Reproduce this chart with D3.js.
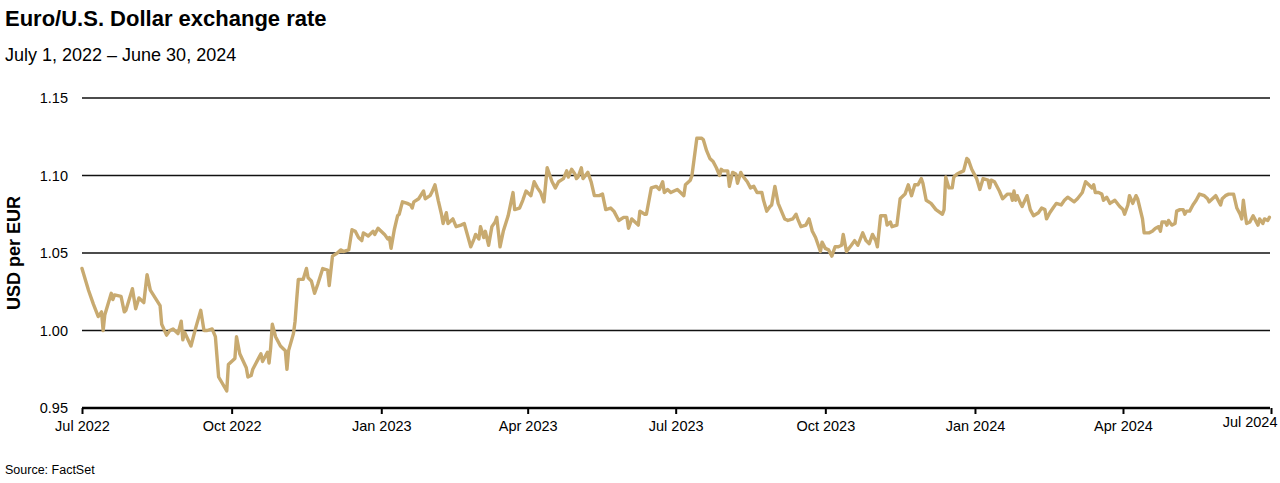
<!DOCTYPE html>
<meta charset="utf-8">
<style>
  body { margin: 0; background: #fff; }
  svg { display: block; font-family: "Liberation Sans", Arial, sans-serif; }
</style>
<svg width="1280" height="483"></svg>
<script src="https://d3js.org/d3.v7.min.js"></script>
<script>
// EUR/USD (approximate points along the line)
var dates = [
  "2022-07-01","2022-07-05","2022-07-08","2022-07-11","2022-07-13","2022-07-14","2022-07-15","2022-07-19","2022-07-20","2022-07-21",
  "2022-07-25","2022-07-27","2022-07-28","2022-08-01","2022-08-03","2022-08-05","2022-08-08","2022-08-10","2022-08-12","2022-08-15",
  "2022-08-18","2022-08-19","2022-08-22","2022-08-24","2022-08-26","2022-08-29","2022-08-31","2022-09-01","2022-09-02","2022-09-06",
  "2022-09-09","2022-09-12","2022-09-14","2022-09-16","2022-09-19","2022-09-21","2022-09-23","2022-09-28","2022-09-29","2022-09-30",
  "2022-10-03","2022-10-04","2022-10-06","2022-10-10","2022-10-11","2022-10-13","2022-10-14","2022-10-18","2022-10-19","2022-10-20",
  "2022-10-23","2022-10-24","2022-10-25","2022-10-26","2022-10-28","2022-10-31","2022-11-03","2022-11-04","2022-11-05","2022-11-08",
  "2022-11-09","2022-11-10","2022-11-11","2022-11-14","2022-11-16","2022-11-17","2022-11-19","2022-11-21","2022-11-23","2022-11-26",
  "2022-11-29","2022-11-30","2022-12-02","2022-12-05","2022-12-07","2022-12-09","2022-12-12","2022-12-14","2022-12-16","2022-12-18",
  "2022-12-20","2022-12-21","2022-12-24","2022-12-27","2022-12-28","2022-12-30",
  "2023-01-03","2023-01-05","2023-01-06","2023-01-07","2023-01-09","2023-01-11","2023-01-12","2023-01-14","2023-01-17","2023-01-19",
  "2023-01-20","2023-01-21","2023-01-24","2023-01-27","2023-01-28","2023-01-31","2023-02-01","2023-02-03","2023-02-05","2023-02-07",
  "2023-02-08","2023-02-10","2023-02-11","2023-02-14","2023-02-16","2023-02-19","2023-02-21","2023-02-25","2023-02-27","2023-02-28",
  "2023-03-02","2023-03-03","2023-03-05","2023-03-06","2023-03-08","2023-03-10","2023-03-12","2023-03-13","2023-03-15","2023-03-17",
  "2023-03-20","2023-03-23","2023-03-24","2023-03-27","2023-03-29","2023-03-31","2023-04-03","2023-04-05","2023-04-07","2023-04-09",
  "2023-04-11","2023-04-13","2023-04-16","2023-04-18","2023-04-20","2023-04-23","2023-04-25","2023-04-26","2023-04-28","2023-04-30",
  "2023-05-01","2023-05-02","2023-05-04","2023-05-05","2023-05-08","2023-05-10","2023-05-12","2023-05-15","2023-05-17","2023-05-19",
  "2023-05-22","2023-05-24","2023-05-27","2023-05-30","2023-06-01","2023-06-02","2023-06-04","2023-06-06","2023-06-08","2023-06-09",
  "2023-06-12","2023-06-13","2023-06-16","2023-06-19","2023-06-21","2023-06-23","2023-06-24","2023-06-26","2023-06-28","2023-06-30",
  "2023-07-02","2023-07-04","2023-07-06","2023-07-07","2023-07-10","2023-07-11","2023-07-14","2023-07-17","2023-07-18","2023-07-20",
  "2023-07-22","2023-07-24","2023-07-26","2023-07-28","2023-07-29","2023-07-30","2023-08-02","2023-08-03","2023-08-05","2023-08-07",
  "2023-08-08","2023-08-10","2023-08-11","2023-08-14","2023-08-16","2023-08-18","2023-08-20","2023-08-23","2023-08-24","2023-08-26",
  "2023-08-28","2023-08-29","2023-08-31","2023-09-02","2023-09-04","2023-09-06","2023-09-08","2023-09-11","2023-09-13","2023-09-14",
  "2023-09-16","2023-09-19","2023-09-21","2023-09-23","2023-09-25","2023-09-28","2023-09-29","2023-10-01","2023-10-03","2023-10-05",
  "2023-10-07","2023-10-09","2023-10-11","2023-10-12","2023-10-14","2023-10-17","2023-10-19","2023-10-21","2023-10-24","2023-10-26",
  "2023-10-28","2023-10-30","2023-11-01","2023-11-02","2023-11-04","2023-11-06","2023-11-07","2023-11-08","2023-11-10","2023-11-11",
  "2023-11-14","2023-11-16","2023-11-19","2023-11-21","2023-11-23","2023-11-25","2023-11-27","2023-11-29","2023-11-30","2023-12-02",
  "2023-12-05","2023-12-08","2023-12-12","2023-12-13","2023-12-14","2023-12-16","2023-12-18","2023-12-19","2023-12-21","2023-12-23",
  "2023-12-25","2023-12-27","2023-12-28","2023-12-30",
  "2024-01-02","2024-01-04","2024-01-06","2024-01-09","2024-01-10","2024-01-11","2024-01-13","2024-01-16","2024-01-18","2024-01-21",
  "2024-01-23","2024-01-24","2024-01-25","2024-01-26","2024-01-27","2024-01-29","2024-01-30","2024-02-02","2024-02-04","2024-02-06",
  "2024-02-09","2024-02-11","2024-02-13","2024-02-14","2024-02-16","2024-02-18","2024-02-20","2024-02-23","2024-02-25","2024-02-27",
  "2024-03-02","2024-03-04","2024-03-07","2024-03-09","2024-03-11","2024-03-13","2024-03-14","2024-03-15","2024-03-17","2024-03-19",
  "2024-03-20","2024-03-22","2024-03-24","2024-03-27","2024-03-30","2024-04-01","2024-04-02","2024-04-04","2024-04-05","2024-04-07",
  "2024-04-09","2024-04-10","2024-04-13","2024-04-14","2024-04-17","2024-04-19","2024-04-21","2024-04-23","2024-04-24","2024-04-25",
  "2024-04-27","2024-04-28","2024-04-29","2024-05-01","2024-05-03","2024-05-04","2024-05-06","2024-05-08","2024-05-09","2024-05-10",
  "2024-05-12","2024-05-14","2024-05-16","2024-05-18","2024-05-21","2024-05-23","2024-05-24","2024-05-26","2024-05-28","2024-05-30",
  "2024-05-31","2024-06-01","2024-06-03","2024-06-05","2024-06-07","2024-06-08","2024-06-10","2024-06-12","2024-06-13","2024-06-14",
  "2024-06-15","2024-06-16","2024-06-18","2024-06-20","2024-06-21","2024-06-23","2024-06-24","2024-06-26","2024-06-27","2024-06-29",
  "2024-06-30"
];
var rates = [
  1.040,1.026,1.017,1.009,1.012,1.000,1.010,1.024,1.020,1.023,
  1.022,1.012,1.013,1.027,1.014,1.021,1.018,1.036,1.026,1.021,
  1.016,1.004,0.997,1.000,1.001,0.998,1.006,0.994,0.999,0.990,
  1.002,1.013,1.000,1.000,1.001,0.996,0.970,0.961,0.978,0.979,
  0.982,0.996,0.985,0.976,0.970,0.971,0.975,0.983,0.985,0.980,
  0.986,0.979,0.989,1.004,0.996,0.990,0.987,0.975,0.987,0.998,
  1.006,1.020,1.033,1.033,1.040,1.034,1.032,1.024,1.030,1.040,
  1.039,1.029,1.048,1.050,1.052,1.051,1.052,1.065,1.064,1.060,
  1.058,1.063,1.061,1.064,1.062,1.066,
  1.062,1.059,1.060,1.053,1.065,1.074,1.075,1.083,1.082,1.081,
  1.079,1.083,1.085,1.090,1.085,1.087,1.089,1.094,1.084,1.075,
  1.069,1.076,1.069,1.072,1.067,1.068,1.069,1.054,1.059,1.062,
  1.059,1.067,1.060,1.064,1.055,1.067,1.070,1.073,1.054,1.064,
  1.074,1.089,1.078,1.079,1.084,1.090,1.087,1.096,1.092,1.089,
  1.083,1.105,1.096,1.092,1.096,1.098,1.103,1.099,1.104,1.101,
  1.098,1.099,1.105,1.098,1.102,1.096,1.087,1.087,1.088,1.078,
  1.079,1.077,1.071,1.073,1.073,1.066,1.072,1.070,1.068,1.077,
  1.075,1.075,1.092,1.093,1.091,1.096,1.089,1.091,1.089,1.090,
  1.091,1.089,1.087,1.094,1.097,1.100,1.124,1.124,1.123,1.116,
  1.111,1.109,1.105,1.100,1.104,1.103,1.103,1.093,1.102,1.101,
  1.095,1.102,1.100,1.096,1.092,1.093,1.089,1.089,1.084,1.077,
  1.080,1.081,1.093,1.082,1.077,1.072,1.071,1.072,1.075,1.072,
  1.067,1.068,1.072,1.064,1.060,1.051,1.057,1.053,1.052,1.048,
  1.054,1.054,1.055,1.062,1.051,1.055,1.058,1.055,1.063,1.058,
  1.056,1.062,1.058,1.054,1.074,1.074,1.074,1.068,1.070,1.067,
  1.068,1.085,1.088,1.094,1.087,1.094,1.094,1.098,1.095,1.084,
  1.082,1.078,1.075,1.078,1.099,1.092,1.092,1.099,1.101,1.102,
  1.103,1.111,1.110,1.104,
  1.098,1.091,1.098,1.097,1.092,1.097,1.096,1.090,1.085,1.088,
  1.088,1.084,1.090,1.084,1.087,1.082,1.080,1.087,1.078,1.074,
  1.076,1.079,1.078,1.072,1.076,1.079,1.082,1.081,1.084,1.086,
  1.083,1.085,1.089,1.096,1.094,1.092,1.094,1.089,1.089,1.088,
  1.084,1.086,1.082,1.084,1.080,1.078,1.075,1.081,1.087,1.082,
  1.087,1.085,1.072,1.063,1.063,1.064,1.066,1.067,1.064,1.070,
  1.070,1.068,1.071,1.068,1.069,1.077,1.078,1.078,1.075,1.077,
  1.077,1.081,1.084,1.088,1.087,1.085,1.083,1.085,1.087,1.083,
  1.081,1.085,1.087,1.088,1.088,1.088,1.079,1.075,1.072,1.084,
  1.076,1.069,1.070,1.074,1.072,1.068,1.072,1.069,1.072,1.071,
  1.073
];
var yTicks = [0.95, 1.00, 1.05, 1.10, 1.15];
var gridTicks = [1.00, 1.05, 1.10, 1.15];
var xTickDates = ["2022-07-01","2022-10-01","2023-01-01","2023-04-01","2023-07-01","2023-10-01","2024-01-01","2024-04-01","2024-07-01"];

function drawChart() {
  var parse = d3.timeParse("%Y-%m-%d");
  var data = dates.map(function(d, i) { return { date: parse(d), value: rates[i] }; });

  var svg = d3.select("svg");
  var plotLeft = 82, plotRight = 1271, plotTop = 98, plotBottom = 408;

  var x = d3.scaleTime().domain([parse("2022-07-01"), parse("2024-07-01")]).range([plotLeft, plotRight]);
  var y = d3.scaleLinear().domain([0.95, 1.15]).range([plotBottom, plotTop]);

  // titles
  svg.append("text").attr("x", 5).attr("y", 26).attr("font-size", 22).attr("font-weight", "bold")
    .attr("fill", "#000").text("Euro/U.S. Dollar exchange rate");
  svg.append("text").attr("x", 5).attr("y", 61).attr("font-size", 18)
    .attr("fill", "#000").text("July 1, 2022 \u2013 June 30, 2024");

  // gridlines
  svg.append("g").selectAll("line").data(gridTicks).enter().append("line")
    .attr("x1", plotLeft).attr("x2", 1270)
    .attr("y1", function(d) { return y(d); }).attr("y2", function(d) { return y(d); })
    .attr("stroke", "#111").attr("stroke-width", 1.3);

  // y labels
  var yAxis = svg.append("g").attr("transform", "translate(" + plotLeft + ",0)")
    .call(d3.axisLeft(y).tickValues(yTicks).tickFormat(d3.format(".2f")).tickSize(0).tickPadding(14));
  yAxis.select(".domain").remove();
  yAxis.selectAll("text").attr("font-size", 14.5).attr("font-family", "Liberation Sans, Arial, sans-serif").attr("fill", "#000");

  svg.append("text")
    .attr("transform", "translate(14," + ((plotTop + plotBottom) / 2) + ") rotate(-90)")
    .attr("text-anchor", "middle").attr("dy", "0.35em")
    .attr("font-size", 18).attr("font-weight", "bold").attr("fill", "#000")
    .text("USD per EUR");

  // the line
  var line = d3.line().x(function(d) { return x(d.date); }).y(function(d) { return y(d.value); });
  svg.append("path").datum(data)
    .attr("fill", "none").attr("stroke", "#C8AA70").attr("stroke-width", 3.4)
    .attr("stroke-linejoin", "round").attr("stroke-linecap", "round")
    .attr("d", line);

  // x axis
  var xAxis = svg.append("g").attr("transform", "translate(0," + plotBottom + ")")
    .call(d3.axisBottom(x).tickValues(xTickDates.map(parse)).tickFormat(d3.timeFormat("%b %Y")).tickSizeOuter(0).tickSize(6).tickPadding(7));
  xAxis.select(".domain").attr("stroke", "#000").attr("stroke-width", 2.6).attr("d", "M" + plotLeft + ",0H1270");
  xAxis.selectAll(".tick line").attr("stroke", "#000").attr("stroke-width", 2);
  xAxis.selectAll("text").attr("font-size", 14.5).attr("font-family", "Liberation Sans, Arial, sans-serif").attr("fill", "#000");
  xAxis.selectAll(".tick").filter(function(d, i, n) { return i === n.length - 1; })
    .select("text").attr("text-anchor", "end").attr("x", 6).attr("y", 9);

  svg.append("text").attr("x", 5).attr("y", 474).attr("font-size", 12.5).attr("fill", "#000").text("Source: FactSet");
}
drawChart();
</script>
